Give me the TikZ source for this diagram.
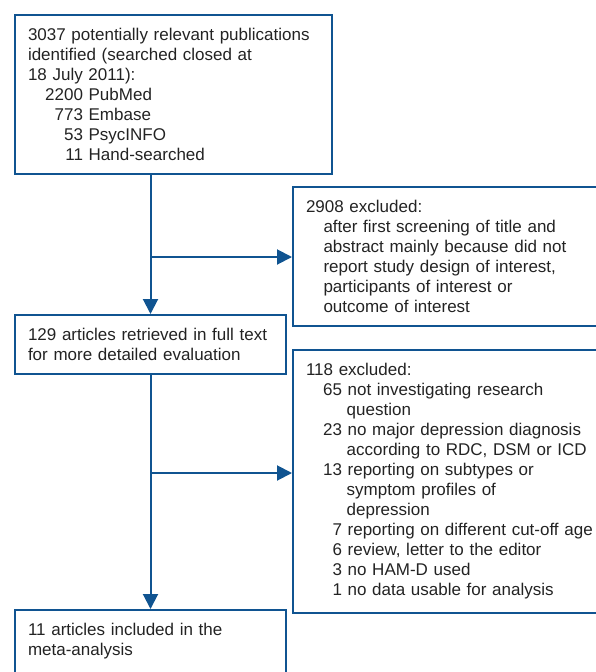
\documentclass[tikz,border=0pt]{standalone}
\usepackage{fontspec}
\setmainfont{Liberation Sans}
\usetikzlibrary{arrows.meta}
\definecolor{flowblue}{RGB}{16,84,145}
\definecolor{flowtext}{RGB}{35,35,35}
\newcommand{\excnt}[2][36pt]{\makebox[#1][r]{#2}\ }
\newcommand{\exhang}{\hspace*{40.7pt}}

\begin{document}
\begin{tikzpicture}[x=1pt,y=-1pt,
	box/.style={draw=flowblue, line width=2pt, anchor=north west, align=left,
		text=flowtext, inner xsep=13pt, inner ysep=13.5pt, font=\fontsize{17}{20}\selectfont},
	link/.style={draw=flowblue, line width=2pt, -{Triangle[length=15pt,width=15pt]}}]
	\useasboundingbox (0,0) rectangle (596,672);
	\clip (0,0) rectangle (596,672);

	\node[box, text width=291pt] (search) at (14,14) {3037 potentially relevant publications\\
		identified (searched closed at\\
		18 July 2011):\\
		\excnt[55pt]{2200}PubMed\\
		\excnt[55pt]{773}Embase\\
		\excnt[55pt]{53}PsycINFO\\
		\excnt[55pt]{11}Hand-searched};
	\node[box, text width=320pt] (excl1) at (292,186) {2908 excluded:\\
		\hspace*{17.5pt}after first screening of title and\\
		\hspace*{17.5pt}abstract mainly because did not\\
		\hspace*{17.5pt}report study design of interest,\\
		\hspace*{17.5pt}participants of interest or\\
		\hspace*{17.5pt}outcome of interest};
	\node[box, text width=245pt] (fulltext) at (14,314) {129 articles retrieved in full text\\
		for more detailed evaluation};
	\node[box, text width=320pt] (excl2) at (292,349) {118 excluded:\\
		\excnt{65}not investigating research\\
		\exhang question\\
		\excnt{23}no major depression diagnosis\\
		\exhang according to RDC, DSM or ICD\\
		\excnt{13}reporting on subtypes or\\
		\exhang symptom profiles of\\
		\exhang depression\\
		\excnt{7}reporting on different cut-off age\\
		\excnt{6}review, letter to the editor\\
		\excnt{3}no HAM-D used\\
		\excnt{1}no data usable for analysis};
	\node[box, text width=245pt] (included) at (14,609) {11 articles included in the\\
		meta-analysis};

	\coordinate (split1) at (fulltext.north |- 0,257);
	\coordinate (split2) at (fulltext.south |- 0,473);
	\draw[link] (search.south -| fulltext.north) -- (fulltext.north);
	\draw[link] (split1) -- (split1 -| excl1.west);
	\draw[link] (fulltext.south) -- (included.north);
	\draw[link] (split2) -- (split2 -| excl2.west);
\end{tikzpicture}
\end{document}
